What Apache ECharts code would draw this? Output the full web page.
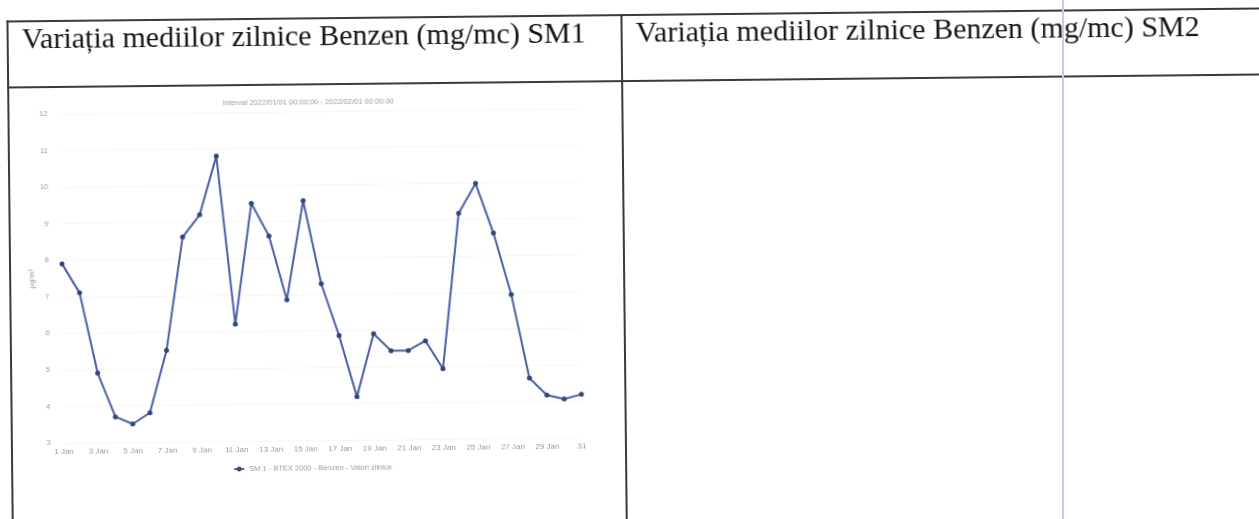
<!DOCTYPE html>
<html>
<head>
<meta charset="utf-8">
<script src="https://cdn.jsdelivr.net/npm/echarts@6/dist/echarts.min.js"></script>
<style>
  html, body { margin: 0; padding: 0; background: #fff; overflow: hidden; }
  #page {
    position: absolute; left: 0; top: 0; width: 1259px; height: 519px;
    transform: rotate(-0.6deg); transform-origin: 629.5px 259.5px;
  }
  .hline { position: absolute; height: 2px; background: #3a3a3a; }
  .vline { position: absolute; width: 2px; background: #3a3a3a; }
  .head {
    position: absolute; top: 17px; font-family: "Liberation Serif", serif;
    font-size: 30px; line-height: 30px; color: #151515; white-space: nowrap;
  }
  #chart { position: absolute; left: 0; top: 0; width: 1259px; height: 519px; }
  #scanline { position: absolute; left: 1062px; top: 0; width: 2px; height: 519px; background: #c9c9ef; }
</style>
</head>
<body>
<div id="page">
  <div id="chart"></div>
  <div class="hline" style="left:9px; top:14px; width:1260px;"></div>
  <div class="hline" style="left:9px; top:80px; width:1260px;"></div>
  <div class="vline" style="left:9px; top:14px; height:520px;"></div>
  <div class="vline" style="left:623px; top:14px; height:520px;"></div>
  <div class="head" style="left:24px;">Variația mediilor zilnice Benzen (mg/mc) SM1</div>
  <div class="head" style="left:638px;">Variația mediilor zilnice Benzen (mg/mc) SM2</div>
</div>
<div id="scanline"></div>
<script>
const days = [1, 2, 3, 4, 5, 6, 7, 8, 9, 10, 11, 12, 13, 14, 15, 16,
  17, 18, 19, 20, 21, 22, 23, 24, 25, 26, 27, 28, 29, 30, 31];
const benzenSM1 = [7.9, 7.1, 4.9, 3.7, 3.5, 3.8, 5.5, 8.6, 9.2, 10.8, 6.2, 9.5,
  8.6, 6.85, 9.56, 7.28, 5.86, 4.18, 5.9, 5.43, 5.43, 5.69, 4.92, 9.17,
  9.98, 8.62, 6.93, 4.64, 4.17, 4.06, 4.18];
const seriesName = 'SM 1 - BTEX 2000 - Benzen - Valori zilnice';
const chartTitle = 'Interval 2022/01/01 00:00:00 - 2022/02/01 00:00:00';

const chart = echarts.init(document.getElementById('chart'));
const faint = '#9c9c9c';
const option = {
  animation: false,
  textStyle: { fontFamily: 'Liberation Sans' },
  title: {
    text: chartTitle,
    left: 305, top: 90, textAlign: 'center',
    textStyle: { fontSize: 7.5, fontWeight: 'normal', color: faint }
  },
  legend: {
    left: 226, top: 456,
    itemWidth: 10, itemHeight: 6,
    textStyle: { fontSize: 7.5, color: faint },
    data: [seriesName]
  },
  grid: { left: 62, right: 679, top: 108, bottom: 82 },
  xAxis: {
    type: 'category',
    data: days,
    boundaryGap: false,
    axisLine: { show: false },
    axisTick: { show: false },
    axisLabel: {
      interval: 1, margin: 5, fontSize: 8, color: faint,
      formatter: v => (v === '31' ? '31' : v + ' Jan')
    }
  },
  yAxis: {
    type: 'value',
    min: 3, max: 12, interval: 1,
    name: 'µg/m³',
    nameLocation: 'middle', nameRotate: 90, nameGap: 26,
    nameTextStyle: { fontSize: 7.5, color: faint },
    axisLabel: { margin: 13, fontSize: 7.5, color: faint },
    splitLine: { lineStyle: { color: '#f6f6f6' } }
  },
  series: [{
    name: seriesName,
    type: 'line',
    data: benzenSM1,
    symbol: 'circle',
    symbolSize: 5,
    lineStyle: { width: 2, color: '#4a5fa5' },
    itemStyle: { color: '#33457a' }
  }]
};
chart.setOption(option);
</script>
</body>
</html>
